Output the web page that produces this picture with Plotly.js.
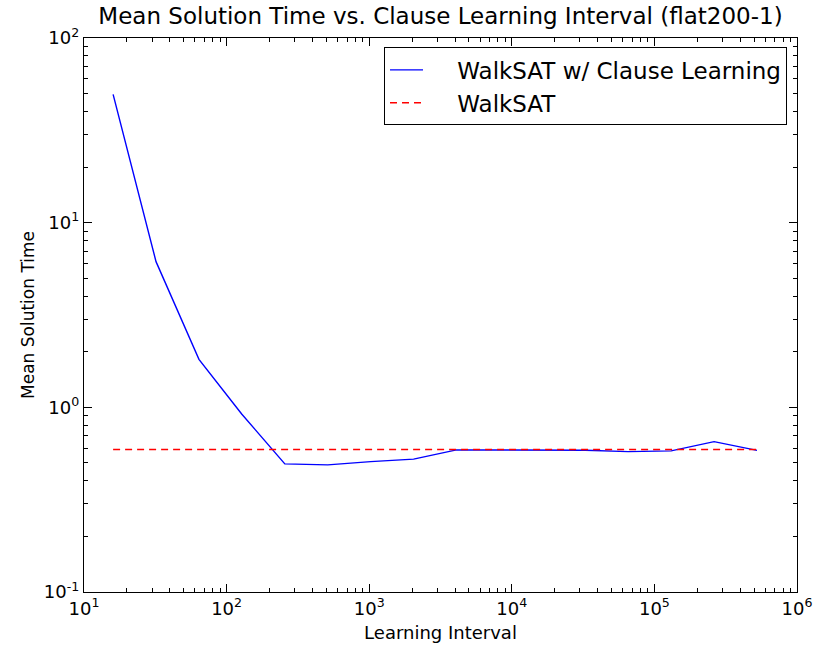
<!DOCTYPE html>
<html>
<head>
<meta charset="utf-8">
<script src="https://cdn.plot.ly/plotly-3.0.1.min.js"></script>
<style>html,body{margin:0;padding:0;background:#fff;}#chart{width:817px;height:652px;}</style>
</head>
<body>
<div id="chart"></div>
<script>
const intervals = [16, 32, 64, 128, 256, 512, 1024, 2048, 4096, 8192, 16384, 32768, 65536, 131072, 262144, 524288];
const clauseLearningTimes = [49.5, 6.15, 1.82, 0.918, 0.494, 0.488, 0.508, 0.524, 0.588, 0.588, 0.588, 0.586, 0.576, 0.581, 0.652, 0.585];
const walksatTime = 0.591;
const walksatX = [16, 524288];
const walksatY = [walksatTime, walksatTime];
const seriesNames = ['WalkSAT w/ Clause Learning', 'WalkSAT'];
const xTickVals = [10, 100, 1000, 10000, 100000, 1000000];
const xTickText = ['10<sup>1</sup>', '10<sup>2</sup>', '10<sup>3</sup>', '10<sup>4</sup>', '10<sup>5</sup>', '10<sup>6</sup>'];
const yTickVals = [0.1, 1, 10, 100];
const yTickText = ['10<sup>-1</sup>', '10<sup>0</sup>', '10<sup>1</sup>', '10<sup>2</sup>'];

function minorVals(lo, hi) {
  const out = [];
  for (let d = lo; d < hi; d++) {
    for (let m = 2; m <= 9; m++) out.push(m * Math.pow(10, d));
  }
  return out;
}

const pad = '\u00a0\u00a0\u00a0\u00a0';
const traces = [
  {x: intervals, y: clauseLearningTimes, mode: 'lines', name: pad + seriesNames[0],
   line: {color: '#0000ff', width: 1.4}},
  {x: walksatX, y: walksatY, mode: 'lines', name: pad + seriesNames[1],
   line: {color: '#ff0000', width: 1.4, dash: '7px,5px'}}
];

const font = 'DejaVu Sans, sans-serif';
const layout = {
  width: 817, height: 652,
  margin: {l: 84, r: 20, t: 38, b: 60},
  paper_bgcolor: '#fff', plot_bgcolor: '#fff',
  title: {text: 'Mean Solution Time vs. Clause Learning Interval (flat200-1)', font: {family: font, size: 23, color: '#000'},
          x: 0.5, xref: 'paper', xanchor: 'center', y: 0.975, yanchor: 'middle'},
  showlegend: true,
  legend: {x: 0.986, y: 0.983, xanchor: 'right', yanchor: 'top', bgcolor: '#fff', bordercolor: '#000', borderwidth: 1,
           font: {family: font, size: 23, color: '#000'}, itemwidth: 33, tracegroupgap: 0},
  xaxis: {type: 'log', range: [1, 6], tickmode: 'array', tickvals: xTickVals, ticktext: xTickText,
          ticks: 'inside', ticklen: 8, tickcolor: '#000', tickwidth: 1, showgrid: false, zeroline: false,
          showline: true, linecolor: '#000', linewidth: 1.2, mirror: 'ticks',
          tickfont: {family: font, size: 18, color: '#000'},
          minor: {tickmode: 'array', tickvals: minorVals(1, 6), ticks: 'inside', ticklen: 4, tickcolor: '#000', showgrid: false},
          title: {text: 'Learning Interval', font: {family: font, size: 18, color: '#000'}, standoff: 8}},
  yaxis: {type: 'log', range: [-1, 2], tickmode: 'array', tickvals: yTickVals, ticktext: yTickText,
          ticks: 'inside', ticklen: 8, tickcolor: '#000', tickwidth: 1, showgrid: false, zeroline: false,
          showline: true, linecolor: '#000', linewidth: 1.2, mirror: 'ticks',
          tickfont: {family: font, size: 18, color: '#000'},
          minor: {tickmode: 'array', tickvals: minorVals(-1, 2), ticks: 'inside', ticklen: 4, tickcolor: '#000', showgrid: false},
          title: {text: 'Mean Solution Time', font: {family: font, size: 17, color: '#000'}, standoff: 4}}
};

Plotly.newPlot('chart', traces, layout, {displayModeBar: false, staticPlot: true});
</script>
</body>
</html>
